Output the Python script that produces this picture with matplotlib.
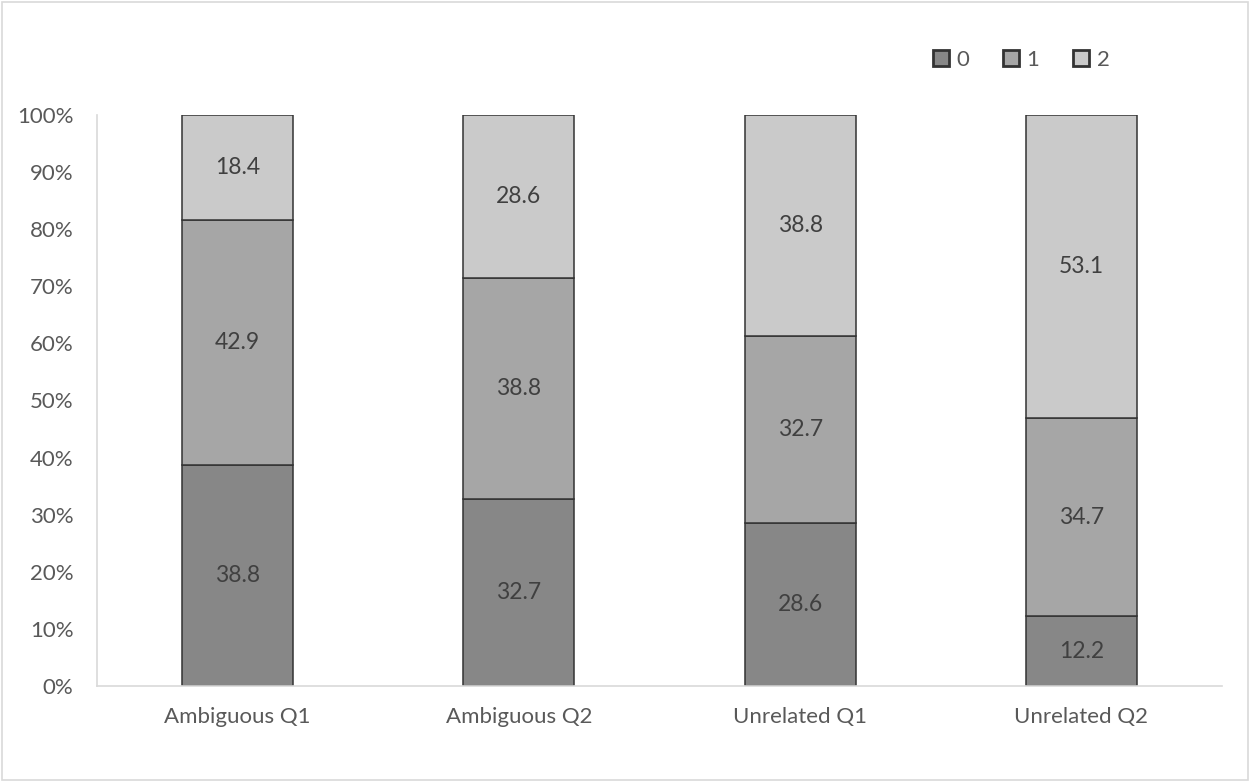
import matplotlib
matplotlib.use("Agg")
import matplotlib.pyplot as plt
from matplotlib.patches import Rectangle
from matplotlib.ticker import PercentFormatter
import numpy as np

categories = ["Ambiguous Q1", "Ambiguous Q2", "Unrelated Q1", "Unrelated Q2"]
score0 = [38.8, 32.7, 28.6, 12.2]
score1 = [42.9, 38.8, 32.7, 34.7]
score2 = [18.4, 28.6, 38.8, 53.1]
series_names = ["0", "1", "2"]

colors = ["#878787", "#a6a6a6", "#cacaca"]
txt = "#595959"
FS = 16

plt.rcParams["font.family"] = ["Lato", "DejaVu Sans"]

fig = plt.figure(figsize=(12.5, 7.82), dpi=100)
fig.patches.append(Rectangle((0.0015, 0.002), 0.997, 0.996, transform=fig.transFigure,
                             fill=False, ec="#d9d9d9", lw=1.2))
ax = fig.add_axes([0.0776, 0.1228, 0.9, 0.7302])

vals = np.array([score0, score1, score2])
pct = vals / vals.sum(axis=0) * 100          # 100% stacked
x = np.arange(len(categories))
bottom = np.zeros(len(categories))
for i in range(3):
    ax.bar(x, pct[i], 0.395, bottom=bottom, color=colors[i], ec="#333333", lw=1.1,
           label=series_names[i], zorder=2)
    for xi, b, h, v in zip(x, bottom, pct[i], vals[i]):
        ax.text(xi, b + h / 2, f"{v:.1f}", ha="center", va="center", fontsize=16.5, color="#404040")
    bottom += pct[i]

ax.set_xlim(-0.5, 3.5)
ax.set_ylim(0, 100)
ax.set_yticks(np.arange(0, 101, 10))
ax.yaxis.set_major_formatter(PercentFormatter(decimals=0))
ax.set_xticks(x)
ax.set_xticklabels(categories)
ax.tick_params(axis="both", length=0, labelsize=FS, colors=txt)
ax.tick_params(axis="x", pad=15)
ax.tick_params(axis="y", pad=17)
for s in ["top", "right"]:
    ax.spines[s].set_visible(False)
for s in ["left", "bottom"]:
    ax.spines[s].set_color("#d9d9d9")
    ax.spines[s].set_linewidth(1.2)

leg = ax.legend(loc="center left", bbox_to_anchor=(0.735, 1.097), ncol=3, frameon=False,
                fontsize=FS, handlelength=0.72, handleheight=0.72, handletextpad=0.35,
                columnspacing=1.5, borderaxespad=0)
for t in leg.get_texts():
    t.set_color(txt)
for h in leg.legend_handles:
    h.set_edgecolor("#333333")
    h.set_linewidth(2)

fig.savefig("out.png", dpi=100)
